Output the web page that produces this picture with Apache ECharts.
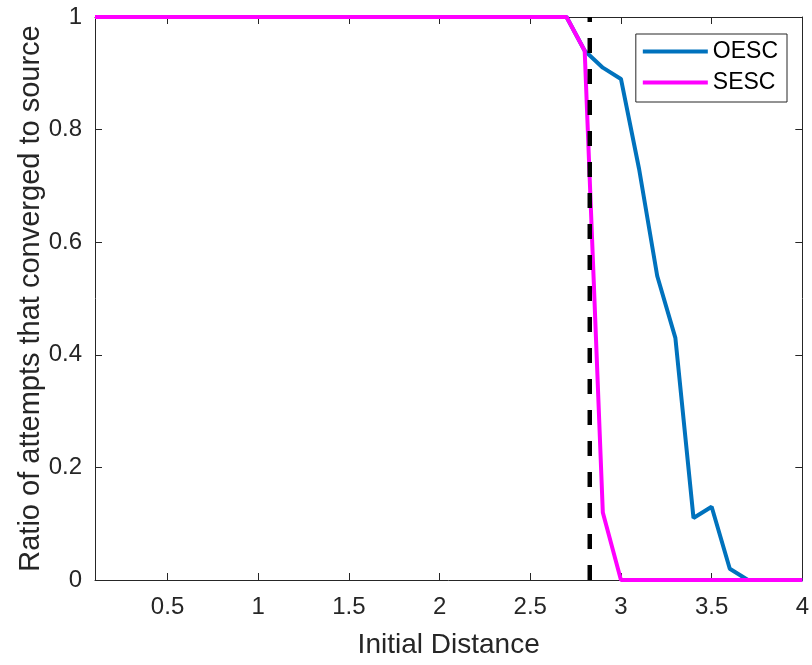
<!DOCTYPE html>
<html>
<head>
<meta charset="utf-8">
<script src="https://cdn.jsdelivr.net/npm/echarts@6/dist/echarts.min.js"></script>
<style>
html,body{margin:0;padding:0;background:#fff;}
#chart{width:812px;height:665px;}
</style>
</head>
<body>
<div id="chart"></div>
<script>
const initialDistance = [0.1,0.2,0.3,0.4,0.5,0.6,0.7,0.8,0.9,1.0,1.1,1.2,1.3,1.4,1.5,1.6,1.7,1.8,1.9,2.0,2.1,2.2,2.3,2.4,2.5,2.6,2.7,2.8,2.9,3.0,3.1,3.2,3.3,3.4,3.5,3.6,3.7,3.8,3.9,4.0];
const oescValues = [1,1,1,1,1,1,1,1,1,1,1,1,1,1,1,1,1,1,1,1,1,1,1,1,1,1,1,0.94,0.91,0.89,0.73,0.54,0.43,0.11,0.13,0.02,0,0,0,0];
const sescValues = [1,1,1,1,1,1,1,1,1,1,1,1,1,1,1,1,1,1,1,1,1,1,1,1,1,1,1,0.94,0.12,0,0,0,0,0,0,0,0,0,0,0];
const thresholdX = 2.828;
const xTickValues = [0.5,1,1.5,2,2.5,3,3.5,4];
const yTickValues = [0,0.2,0.4,0.6,0.8,1];
const seriesNames = ['OESC','SESC'];
const xLabel = 'Initial Distance';
const yLabel = 'Ratio of attempts that converged to source';

const FONT = '"Liberation Sans", Arial, Helvetica, sans-serif';
const AX = '#262626';

function pairs(xs, ys){ return xs.map((x,i)=>[x, ys[i]]); }

const chart = echarts.init(document.getElementById('chart'), null, {renderer:'canvas'});

const baseX = {
  type:'value', min:0.1, max:4,
  splitLine:{show:false},
  axisLine:{show:true, onZero:false, lineStyle:{color:AX, width:1}},
  axisTick:{show:true, inside:true, length:7, customValues:xTickValues, lineStyle:{color:AX}},
};
const baseY = {
  type:'value', min:0, max:1, interval:0.2,
  splitLine:{show:false},
  axisLine:{show:true, onZero:false, lineStyle:{color:AX, width:1}},
  axisTick:{show:true, inside:true, length:7, customValues:yTickValues, lineStyle:{color:AX}},
};

chart.setOption({
  backgroundColor:'#ffffff',
  animation:false,
  grid:{left:95, right:9, top:17, bottom:85, containLabel:false},
  xAxis:[
    Object.assign({}, baseX, {
      position:'bottom',
      axisLabel:{show:true, customValues:xTickValues, margin:15, color:AX, fontFamily:FONT, fontSize:24,
        formatter:v=>String(v)},
      name:xLabel, nameLocation:'middle', nameGap:51, nameMoveOverlap:false,
      nameTextStyle:{color:AX, fontFamily:FONT, fontSize:28}
    }),
    Object.assign({}, baseX, {position:'top', axisLabel:{show:false}})
  ],
  yAxis:[
    Object.assign({}, baseY, {
      position:'left',
      axisLabel:{show:true, customValues:yTickValues, margin:13, color:AX, fontFamily:FONT, fontSize:24,
        formatter:v=>String(v)},
      name:yLabel, nameLocation:'middle', nameGap:50, nameMoveOverlap:false,
      nameTextStyle:{color:AX, fontFamily:FONT, fontSize:29}
    }),
    Object.assign({}, baseY, {position:'right', axisLabel:{show:false}})
  ],
  legend:{
    show:true,
    data:seriesNames,
    orient:'vertical',
    right:25, top:34,
    backgroundColor:'#ffffff',
    borderColor:AX, borderWidth:1,
    padding:[6,9,8,7],
    itemGap:8,
    itemWidth:65, itemHeight:4,
    icon:'rect',
    textStyle:{color:'#000', fontFamily:FONT, fontSize:23}
  },
  series:[
    {
      name:seriesNames[0], type:'line', xAxisIndex:0, yAxisIndex:0,
      data:pairs(initialDistance, oescValues),
      showSymbol:false, symbol:'none',
      lineStyle:{color:'#0072BD', width:4},
      itemStyle:{color:'#0072BD'},
      z:2
    },
    {
      name:seriesNames[1], type:'line', xAxisIndex:0, yAxisIndex:0,
      data:pairs(initialDistance, sescValues),
      showSymbol:false, symbol:'none',
      lineStyle:{color:'#FF00FF', width:4},
      itemStyle:{color:'#FF00FF'},
      z:3
    },
    {
      name:'threshold', type:'line', xAxisIndex:0, yAxisIndex:0,
      data:[[thresholdX,0],[thresholdX,1]],
      showSymbol:false, symbol:'none',
      lineStyle:{color:'#000000', width:4.5, type:[15,16]},
      z:4
    }
  ]
});
</script>
</body>
</html>
